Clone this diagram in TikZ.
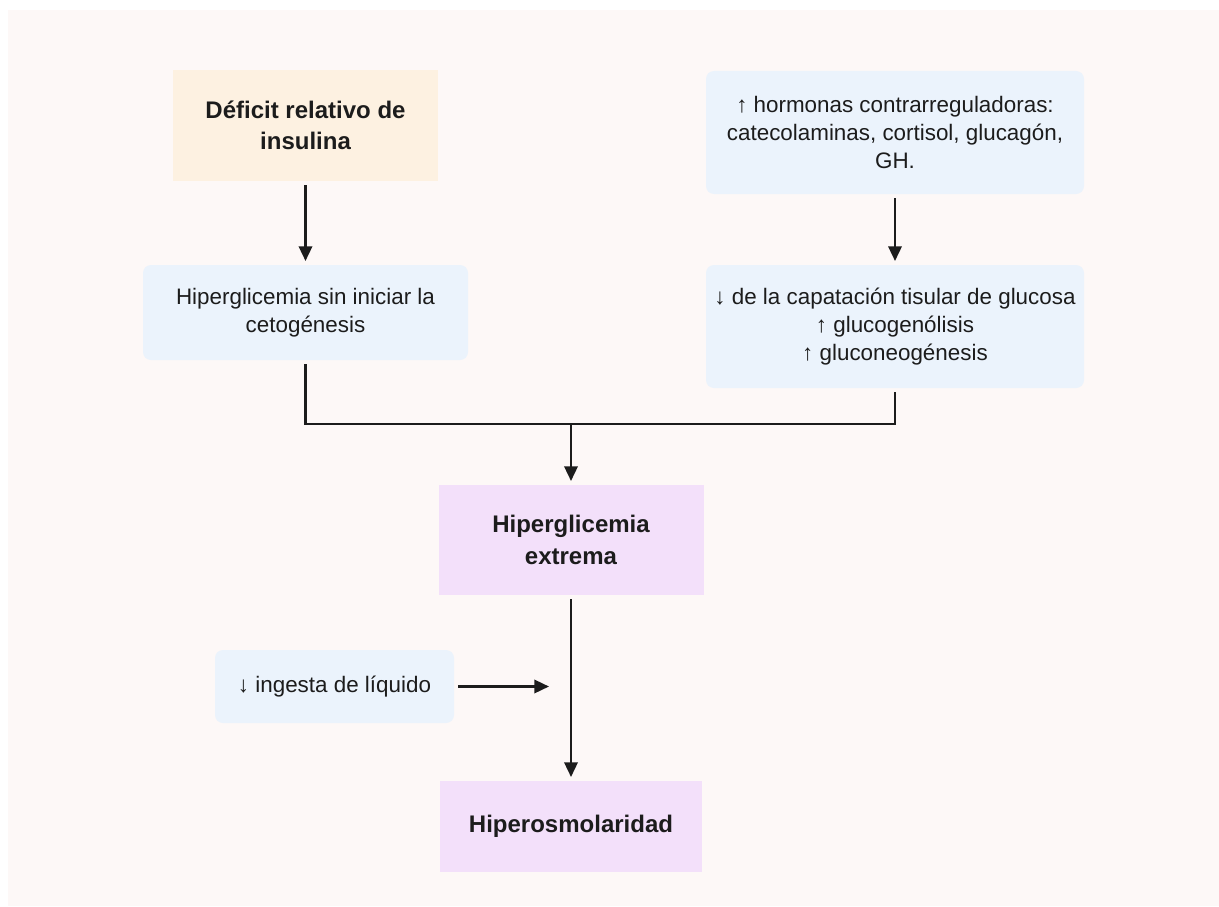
\documentclass[tikz,border=0pt]{standalone}
\usepackage{fontspec}
\setmainfont{Liberation Sans}
\usetikzlibrary{arrows.meta}

\definecolor{bgpink}{HTML}{FDF8F7}
\definecolor{cream}{HTML}{FDF1E1}
\definecolor{softblue}{HTML}{EBF3FC}
\definecolor{lilac}{HTML}{F3E0FA}
\definecolor{inkblack}{HTML}{1C1C1C}

\begin{document}
\begin{tikzpicture}[x=0.75pt, y=-0.75pt, >={Triangle[width=10pt,length=11pt]},
                    every node/.style={font=\fontsize{16.8}{21}\selectfont, text=inkblack,
                                       align=center, inner sep=0pt, outer sep=3pt},
                    every edge/.style={draw, line width=1.8pt, inkblack},
                    keybox/.style={fill=cream, font=\fontsize{18}{23.5}\selectfont\bfseries},
                    softbox/.style={fill=softblue, rounded corners=6pt},
                    endbox/.style={fill=lilac, font=\fontsize{18}{23.5}\selectfont\bfseries}]

\useasboundingbox (0,0) rectangle (1219,906);
\fill[bgpink] (8,10) rectangle (1219,906);

\node[keybox, minimum width=198.75pt, minimum height=83.25pt] (deficit) at (305.5,125.5)
  {Déficit relativo de\\insulina};
\node[softbox, minimum width=283.5pt, minimum height=92.25pt] (hormonas) at (895,132.5)
  {↑ hormonas contrarreguladoras:\\catecolaminas, cortisol, glucagón,\\GH.};
\node[softbox, minimum width=243.75pt, minimum height=71.25pt] (hiperg) at (305.5,312.5)
  {Hiperglicemia sin iniciar la\\cetogénesis};
\node[softbox, minimum width=283.5pt, minimum height=92.25pt] (captacion) at (895,326.5)
  {↓ de la capatación tisular de glucosa\\↑ glucogenólisis\\↑ gluconeogénesis};
\node[endbox, minimum width=198.75pt, minimum height=82.5pt] (extrema) at (571,540)
  {Hiperglicemia\\extrema};
\node[endbox, minimum width=196.5pt, minimum height=68.25pt] (osmol) at (571,826.5)
  {Hiperosmolaridad};
\node[softbox, minimum width=179.25pt, minimum height=54.75pt] (ingesta) at (334.5,686.5)
  {↓ ingesta de líquido};

\coordinate (junta) at (571,424);
\coordinate (llega) at (549,686.5);

\path[->]
(deficit) edge (hiperg)
(hormonas) edge (captacion)
(junta) edge (extrema)
(extrema) edge (osmol)
(ingesta) edge (llega);
\draw[line width=1.8pt, inkblack] (hiperg) |- (junta) -| (captacion);
\end{tikzpicture}
\end{document}
